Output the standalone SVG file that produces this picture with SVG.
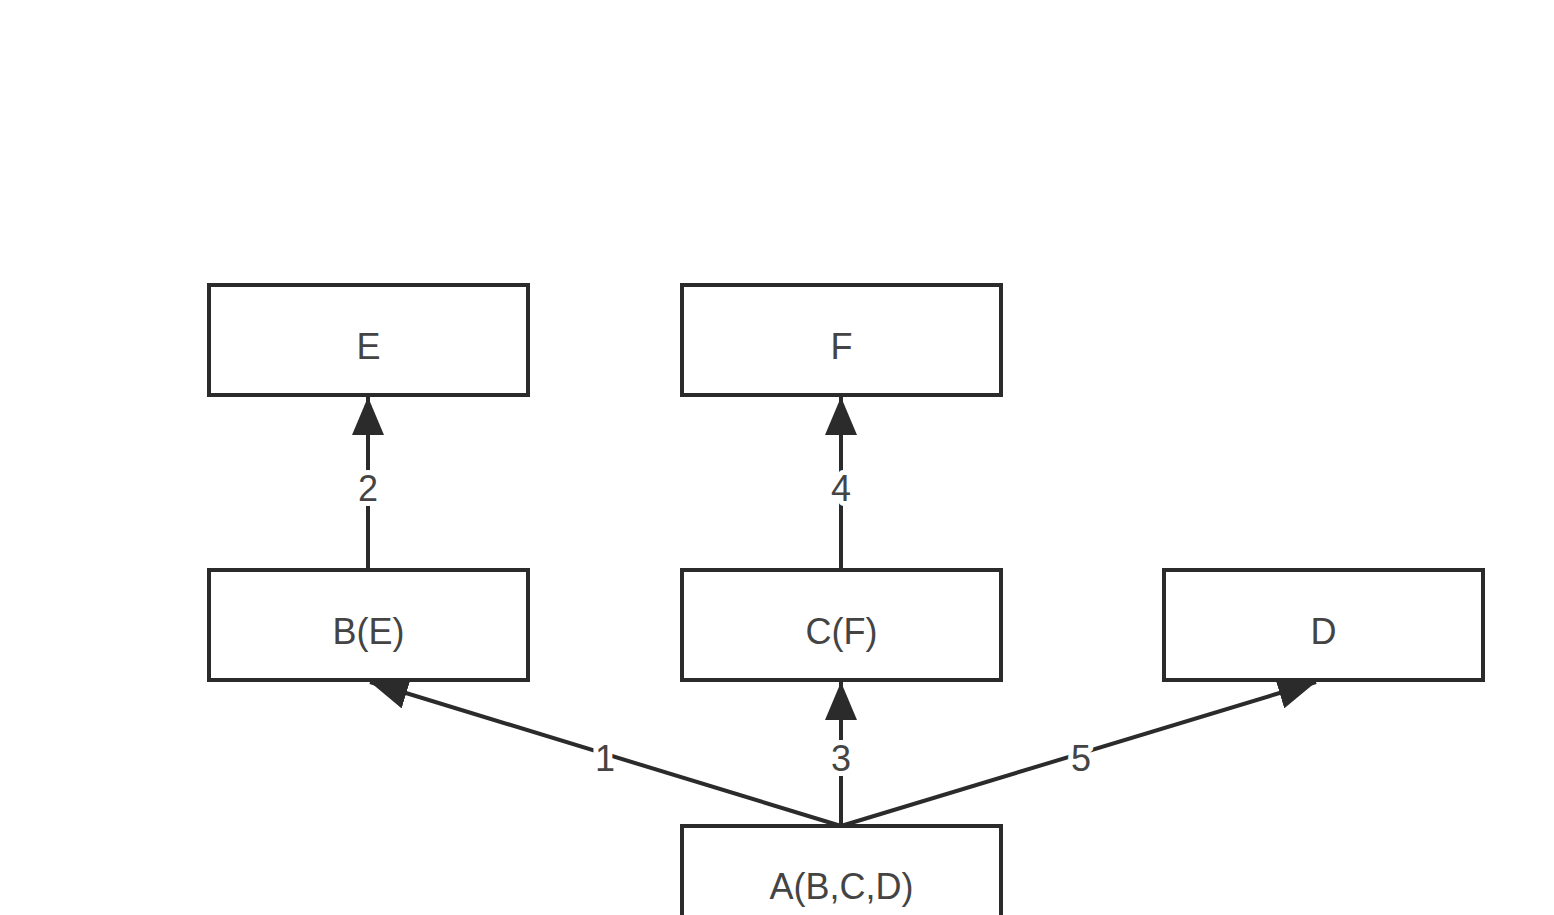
<svg xmlns="http://www.w3.org/2000/svg" width="1554" height="915" viewBox="0 0 1554 915">
<style>
.box{fill:#fff;stroke:#2b2b2b;stroke-width:4}
.t{font-family:"Liberation Sans",Arial,sans-serif;font-size:36px;fill:#444;text-anchor:middle}
.c{stroke:#2b2b2b;stroke-width:4;fill:none;marker-end:url(#ah)}
.lbl{font-family:"Liberation Sans",Arial,sans-serif;font-size:36px;fill:#444;text-anchor:middle;stroke:#fff;stroke-width:10;paint-order:stroke;stroke-linejoin:round}
</style>
<defs>
<marker id="ah" markerUnits="userSpaceOnUse" markerWidth="40" markerHeight="32" refX="38" refY="16" orient="auto">
<path d="M0,0 L38,16 L0,32 Z" fill="#2b2b2b"/>
</marker>
</defs>
<rect width="1554" height="915" fill="#fff"/>
<g id="connectors">
<line class="c" x1="368" y1="570" x2="368" y2="397"/>
<line class="c" x1="841" y1="570" x2="841" y2="397"/>
<line class="c" x1="841" y1="826" x2="370" y2="682"/>
<line class="c" x1="841" y1="826" x2="841" y2="682"/>
<line class="c" x1="841" y1="826" x2="1316" y2="682"/>
<text class="lbl" x="368" y="501">2</text>
<text class="lbl" x="841" y="501">4</text>
<text class="lbl" x="605" y="771">1</text>
<text class="lbl" x="841" y="771">3</text>
<text class="lbl" x="1081" y="771">5</text>
</g>
<g id="E"><rect class="box" x="209" y="285" width="319" height="110"/><text class="t" x="368.5" y="359">E</text></g>
<g id="F"><rect class="box" x="682" y="285" width="319" height="110"/><text class="t" x="841.5" y="359">F</text></g>
<g id="B"><rect class="box" x="209" y="570" width="319" height="110"/><text class="t" x="368.5" y="644">B(E)</text></g>
<g id="C"><rect class="box" x="682" y="570" width="319" height="110"/><text class="t" x="841.5" y="644">C(F)</text></g>
<g id="D"><rect class="box" x="1164" y="570" width="319" height="110"/><text class="t" x="1323.5" y="644">D</text></g>
<g id="A"><rect class="box" x="682" y="826" width="319" height="110"/><text class="t" x="841.5" y="899">A(B,C,D)</text></g>
</svg>
